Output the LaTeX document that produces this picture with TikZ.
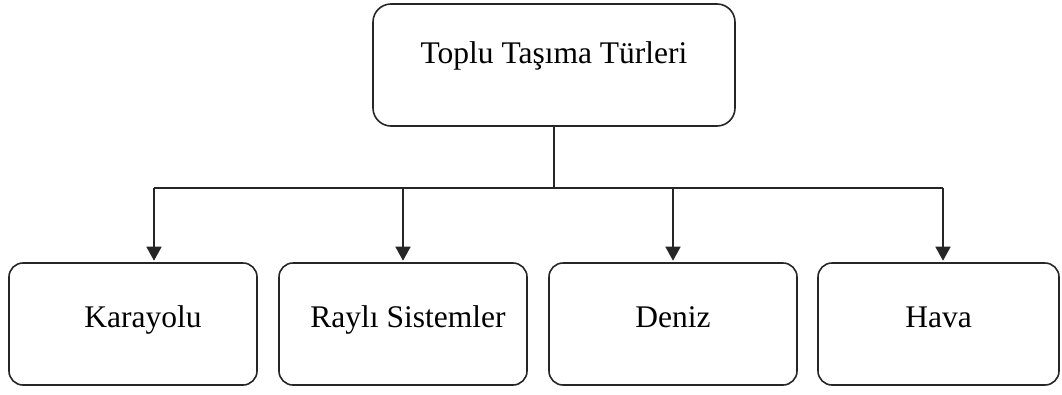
\documentclass[tikz,border=0pt]{standalone}
\usepackage{fontspec}
\setmainfont{Liberation Serif}
\usetikzlibrary{arrows.meta}
\begin{document}
\begin{tikzpicture}[x=1pt,y=-1pt,
  box/.style={draw=black!85, line width=1.6pt, rounded corners=14pt,
    minimum height=122pt, inner sep=0pt,
    font=\fontsize{31.5}{36}\selectfont},
  topbox/.style={box, minimum width=362pt, rounded corners=18pt,
    text height=22pt, text depth=26pt},
  leaf/.style={box, minimum width=#1, text height=22pt, text depth=15pt},
  link/.style={draw=black!85, line width=1.6pt},
  arr/.style={link, -{Triangle[width=15pt,length=14pt]}, shorten >=1.5pt}]
\useasboundingbox (0,0) rectangle (1062,394);
\node[topbox] (top) at (554,65) {Toplu Taşıma Türleri};
\node[leaf=248pt] (b1) at (133,324) {\hspace{20pt}Karayolu};
\node[leaf=248pt] (b2) at (403,324) {\hspace{10pt}Raylı Sistemler};
\node[leaf=248pt] (b3) at (673,324) {Deniz};
\node[leaf=241pt] (b4) at (938.5,324) {Hava};
\coordinate (j1) at (154,188);
\coordinate (j2) at (403,188);
\coordinate (j3) at (673,188);
\coordinate (j4) at (943,188);
\draw[link] (top.south) -- (top.south |- j1);
\draw[link] (j1) -- (j4);
\draw[arr] (j1) -- (j1 |- b1.north);
\draw[arr] (j2) -- (j2 |- b2.north);
\draw[arr] (j3) -- (j3 |- b3.north);
\draw[arr] (j4) -- (j4 |- b4.north);
\end{tikzpicture}
\end{document}
